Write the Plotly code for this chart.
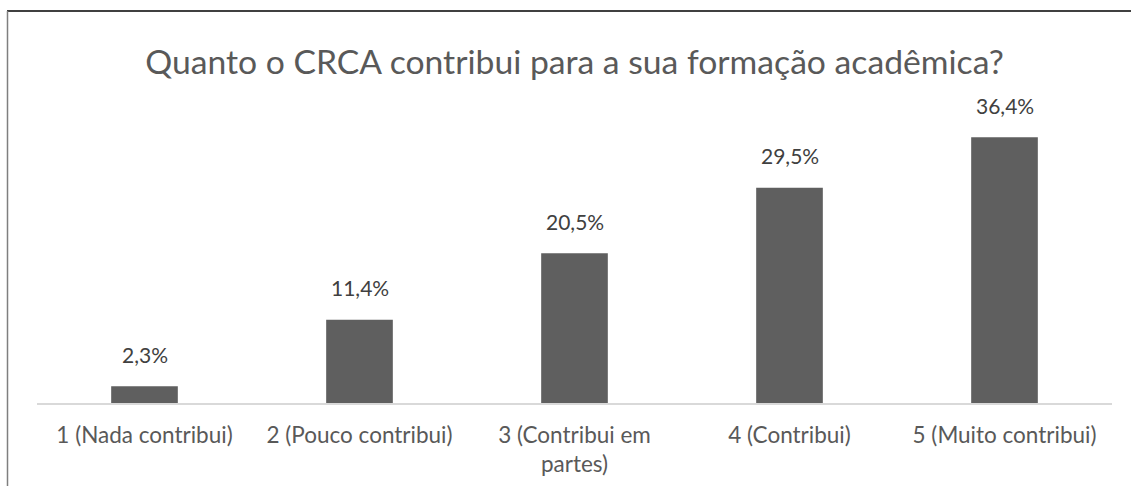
import plotly.graph_objects as go

categories = ["1 (Nada contribui)", "2 (Pouco contribui)", "3 (Contribui em<br>partes)", "4 (Contribui)", "5 (Muito contribui)"]
values = [2.3, 11.4, 20.5, 29.5, 36.4]
labels = ["2,3%", "11,4%", "20,5%", "29,5%", "36,4%"]
title = "Quanto o CRCA contribui para a sua formação acadêmica?"

W, H = 1131, 486
L, R, T, B = 37, 19, 111, 83
YMAX = 40
FONT = "Lato"

fig = go.Figure()
fig.add_trace(go.Bar(
    x=categories, y=values,
    marker=dict(color="#5f5f5f", line=dict(width=0)),
    width=0.31,
    hoverinfo="skip",
))

for c, v, t in zip(categories, values, labels):
    fig.add_annotation(x=c, y=v, text=t, showarrow=False, yanchor="middle", yshift=32,
                       font=dict(family=FONT, size=21, color="#404040"))

ph = H - T - B
pw = W - L - R
def px_to_paper_x(px):
    return (px - L) / pw
def px_to_paper_y(py):
    return (H - B - py) / ph

shapes = [
    dict(type="line", xref="paper", yref="paper",
         x0=px_to_paper_x(7), x1=px_to_paper_x(W + 5), y0=px_to_paper_y(11), y1=px_to_paper_y(11),
         line=dict(color="#000000", width=1.5)),
    dict(type="line", xref="paper", yref="paper",
         x0=px_to_paper_x(7.5), x1=px_to_paper_x(7.5), y0=px_to_paper_y(11), y1=px_to_paper_y(H + 5),
         line=dict(color="#7f7f7f", width=1.5)),
]

fig.update_layout(
    width=W, height=H,
    margin=dict(l=L, r=R, t=T, b=B, pad=0, autoexpand=False),
    paper_bgcolor="white", plot_bgcolor="white",
    showlegend=False,
    bargap=0.69,
    title=dict(text=title, x=0.5, xanchor="center", xref="paper",
               y=(H - 62) / H, yanchor="middle", yref="container",
               font=dict(family=FONT, size=33.7, color="#595959")),
    xaxis=dict(showline=True, linecolor="#d9d9d9", linewidth=1.5, automargin=False,
               ticks="outside", ticklen=11, tickcolor="rgba(0,0,0,0)",
               tickfont=dict(family=FONT, size=22.5, color="#595959"),
               showgrid=False, fixedrange=True),
    yaxis=dict(range=[0, YMAX], visible=False, showgrid=False, zeroline=False,
               fixedrange=True, automargin=False),
    shapes=shapes,
)

fig.write_html("out.html", config={"displayModeBar": False},
               post_script="document.body.style.margin='0';document.body.style.overflow='hidden';")
